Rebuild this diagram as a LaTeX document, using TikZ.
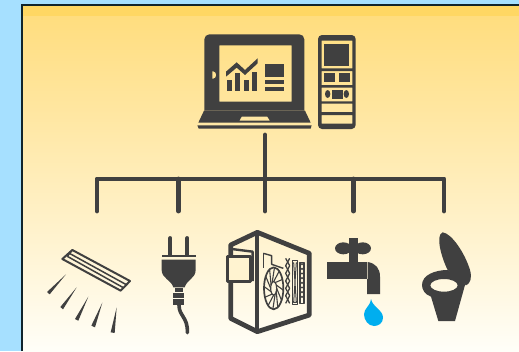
\documentclass[tikz,border=0pt]{standalone}
\usepackage{xcolor}
\usetikzlibrary{calc}
\definecolor{skyback}{HTML}{A6E0FF}
\definecolor{icongray}{HTML}{404040}
\definecolor{dropblue}{HTML}{00AEEF}
\definecolor{paneltop}{HTML}{FFDC7A}
\definecolor{panelmid}{HTML}{FFEFC0}
\definecolor{panelend}{HTML}{FFFEF8}
\definecolor{panelband}{HTML}{FFD763}
\definecolor{panelrim}{HTML}{10242C}
\tikzset{
    icon/.style={fill=icongray,draw=none},
    wire/.style={draw=icongray,line width=4.9pt,line cap=round,line join=round},
    outline/.style={draw=icongray,line join=round},
    zoomed/.style={x=0.33333pt,y=-0.33333pt},
}
\begin{document}
\begin{tikzpicture}[x=1pt,y=-1pt]
    \useasboundingbox (0,0) rectangle (519,351);
    \fill[skyback] (0,0) rectangle (519,351);
    \shade[top color=paneltop,middle color=panelmid,bottom color=panelend] (21,4) rectangle (519,351);
    \fill[panelband] (21,4) rectangle (519,16);
    \draw[panelrim,line width=2pt] (22,351) -- (22,5) -- (519,5);

    % laptop and remote
    \begin{scope}[shift={(180,20)},zoomed]
        \fill[icon,even odd rule] (73,272) [rounded corners=5pt] -- (73,43) -- (373,43) [sharp corners] -- (373,272) -- cycle
            (118,76) rectangle (335,245)
            (97,153) arc[start angle=-90,end angle=90,radius=12] -- cycle;
        \fill[icon,even odd rule] (72,272) -- (375,272) -- (392,308) -- (55,308) -- cycle
            (185,290) -- (262,290) -- (270,302) -- (178,302) -- cycle;
        \fill[icon] (52,316) -- (395,316) -- (392,326) -- (56,326) -- cycle;
        \fill[icon] (138,155) -- (170,127) -- (195,150) -- (233,115) -- (233,130) -- (195,165) -- (170,143) -- (138,170) -- cycle;
        \fill[icon] (141,180) rectangle (155,214);
        \fill[icon] (165,160) rectangle (180,214);
        \fill[icon] (191,180) rectangle (206,214);
        \fill[icon] (216,155) rectangle (230,214);
        \fill[icon] (255,132) rectangle (312,170);
        \fill[icon] (255,180) rectangle (312,192);
        \fill[icon] (255,201) rectangle (312,213);
        \fill[icon,even odd rule,rounded corners=4pt] (414,45) rectangle (527,327)
            [sharp corners]
            (425,62) rectangle (517,145)
            (425,153) rectangle (517,195)
            (425,203) rectangle (517,244)
            (425,251) rectangle (517,276)
            (425,285) rectangle (517,311);
        \fill[icon] (432,72) rectangle (507,137);
        \fill[icon] (432,159) rectangle (465,187);
        \fill[icon] (477,159) rectangle (510,187);
        \fill[icon] (456,210) rectangle (489,236);
        \fill[icon] (443,222) ellipse[x radius=8,y radius=12];
        \fill[icon] (499,222) ellipse[x radius=8,y radius=12];
    \end{scope}

    % connectors
    \coordinate (hub) at (265,135);
    \coordinate (bus) at (265,179);
    \coordinate (lampend) at (97,211);
    \coordinate (plugend) at (178.5,211);
    \coordinate (pcend) at (265,211);
    \coordinate (tapend) at (353.5,211);
    \coordinate (seatend) at (444,211);
    \draw[wire] (hub) -- (bus) -- (pcend);
    \draw[wire] (lampend) -- (lampend |- bus) -- (seatend |- bus) -- (seatend);
    \draw[wire] (plugend |- bus) -- (plugend);
    \draw[wire] (tapend |- bus) -- (tapend);

    % lamp and plug
    \begin{scope}[shift={(30,225)},zoomed]
        \draw[outline,line width=2pt] (127,75) -- (300,168) -- (272,197) -- (97,102) -- cycle;
        \draw[outline,line width=1.5pt] (120,86) -- (289,179);
        \draw[outline,line width=1.5pt] (112,94) -- (280,188);
        \draw[outline,line width=1.5pt] (127,75) -- (112,94);
        \fill[icon] (108,148) -- (59,208) -- (51,201) -- cycle;
        \fill[icon] (140,187) -- (99,253) -- (91,246) -- cycle;
        \fill[icon] (175,215) -- (145,287) -- (135,282) -- cycle;
        \fill[icon] (217,233) -- (195,307) -- (184,302) -- cycle;
        \fill[icon] (260,247) -- (254,324) -- (242,322) -- cycle;
        \draw[icongray,line width=3.8pt,line cap=round] (421,39) -- (421,90);
        \draw[icongray,line width=3.8pt,line cap=round] (472,39) -- (472,90);
        \fill[icon] (395,90) rectangle (497,97);
        \fill[icon] (395,104) -- (497,104) -- (497,135) .. controls (497,160) and (470,165) .. (464,187) -- (430,187)
            .. controls (424,165) and (395,160) .. (395,135) -- cycle;
        \fill[icon] (434,190) rectangle (459,200);
        \fill[icon] (428,204) rectangle (463,218);
        \fill[icon] (428,221) rectangle (463,241);
        \draw[icongray,line width=3.6pt,line cap=round] (447,240) .. controls (447,275) and (474,275) .. (472,323);
    \end{scope}

    % computer case
    \begin{scope}[shift={(215,225)},zoomed]
        \draw[outline,line width=4.8pt] (127,22) -- (283,85) -- (283,270) -- (127,320) -- (47,280) -- (47,60) -- cycle;
        \draw[outline,line width=4pt] (127,22) -- (127,320);
        \draw[outline,line width=3pt,fill=panelmid!75!white] (37,95) rectangle (105,170);
        \draw[outline,line width=2.4pt] (50,72) -- (113,80) -- (113,168);
        \draw[outline,line width=1.4pt] (145,85) -- (145,130);
        \draw[outline,line width=1.4pt] (145,85) -- (170,92) -- (170,118) -- (205,130);
        \draw[outline,line width=1.7pt] (176,190) ellipse[x radius=29,y radius=63];
        \draw[outline,line width=1.2pt] (176,190) ellipse[x radius=9,y radius=20];
        \foreach \ang in {0,30,...,330}
            \draw[icongray,line width=1.1pt] ($(176,190)+(\ang:9 and 20)$) -- ($(176,190)+(\ang+35:29 and 63)$);
        \draw[outline,line width=1.3pt] (212,100) -- (224,122) -- (212,145) -- (224,168) -- (212,190) -- (224,212) -- (212,235);
        \draw[outline,line width=1.3pt] (224,100) -- (212,122) -- (224,145) -- (212,168) -- (224,190) -- (212,212) -- (224,235);
        \draw[outline,line width=1.4pt] (232,106) rectangle (248,238);
        \draw[outline,line width=1pt] (236,112) -- (244,232) -- (236,232) -- (244,112);
        \draw[outline,line width=1.3pt] (255,112) rectangle (267,235);
        \foreach \yy in {122,136,...,228}
            \draw[icongray,line width=1pt] (255,\yy) -- (261,\yy-6) -- (267,\yy);
    \end{scope}

    % tap, drop and toilet
    \begin{scope}[shift={(315,225)},zoomed]
        \fill[icon] (85,70) ellipse[x radius=25,y radius=18];
        \fill[icon] (143,70) ellipse[x radius=25,y radius=18];
        \fill[icon] (102,40) rectangle (128,115);
        \fill[icon] (36,110) rectangle (156,162);
        \fill[icon] (158,111) .. controls (182,115) and (195,130) .. (195,155) -- (195,207) -- (156,207) -- (156,162) -- (158,162) -- cycle;
        \fill[dropblue] (168,222) .. controls (172,245) and (204,255) .. (204,278)
            .. controls (204,295) and (190,303) .. (177,303)
            .. controls (160,303) and (147,285) .. (147,268)
            .. controls (147,250) and (165,245) .. (168,222) -- cycle;
        \fill[icon] (383,22) .. controls (410,25) and (450,85) .. (465,135) .. controls (472,160) and (465,175) .. (455,180)
            .. controls (430,165) and (410,150) .. (398,135) .. controls (380,100) and (360,30) .. (383,22) -- cycle;
        \fill[icon,even odd rule] (321,180) .. controls (321,150) and (360,135) .. (398,135) -- (455,180) -- (450,180)
            -- (420,288) -- (370,288) -- (348,215) .. controls (330,208) and (321,195) .. (321,180) -- cycle
            (387,181) ellipse[x radius=41,y radius=19];
    \end{scope}
\end{tikzpicture}
\end{document}
